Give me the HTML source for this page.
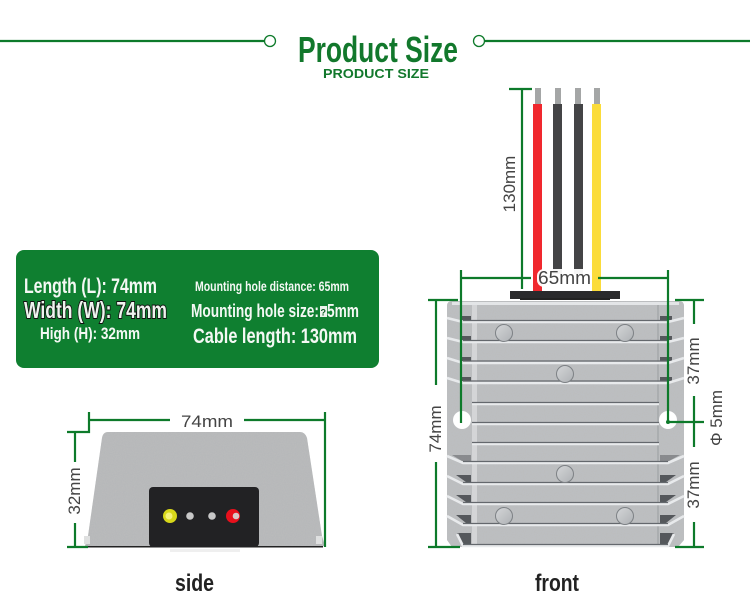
<!DOCTYPE html>
<html>
<head>
<meta charset="utf-8">
<style>
html,body{margin:0;padding:0;background:#fff;width:750px;height:600px;overflow:hidden}
svg{display:block}
text{font-family:"Liberation Sans",sans-serif}
.g{stroke:#0d7a2a;stroke-width:2.2;fill:none}
.d{font-size:17px;fill:#444}
.w{fill:#f4f8f4;font-weight:bold}
.fin{fill:none;stroke:#e8eaec;stroke-width:2.6}
.sh{fill:none;stroke:#64686d;stroke-width:1.2}
.sc{fill:url(#sg);stroke:#7d8185;stroke-width:1}
.dk{fill:#55585c}
</style>
</head>
<body>
<svg width="750" height="600" viewBox="0 0 750 600" xmlns="http://www.w3.org/2000/svg">
<defs>
<filter id="n" x="0" y="0" width="100%" height="100%">
<feTurbulence type="fractalNoise" baseFrequency="0.9" numOctaves="2" seed="3"/>
<feColorMatrix type="matrix" values="0 0 0 0 .5  0 0 0 0 .5  0 0 0 0 .5  1.4 0 0 0 -.35"/>
<feComposite in2="SourceGraphic" operator="in"/>
<feMerge><feMergeNode in="SourceGraphic"/><feMergeNode/></feMerge>
</filter>
<linearGradient id="sg" x1="0" y1="0" x2="1" y2="1"><stop offset="0" stop-color="#d4d6d8"/><stop offset="1" stop-color="#aeb1b4"/></linearGradient>
</defs>
<rect width="750" height="600" fill="#fff"/>

<!-- header -->
<path class="g" d="M0 41H264M485 41H750"/>
<circle cx="270" cy="41" r="5.5" fill="#fff" stroke="#0d7a2a" stroke-width="1.3"/>
<circle cx="479" cy="41" r="5.5" fill="#fff" stroke="#0d7a2a" stroke-width="1.3"/>
<text x="298" y="62" font-size="36" font-weight="bold" fill="#12782c" textLength="160" lengthAdjust="spacingAndGlyphs">Product Size</text>
<text x="323" y="78" font-size="13" font-weight="bold" fill="#12782c" textLength="106" lengthAdjust="spacingAndGlyphs">PRODUCT SIZE</text>

<!-- info panel -->
<rect x="16" y="250" width="363" height="118" rx="8" fill="#0f7f30"/>
<text class="w" x="24" y="293" font-size="21" textLength="133" lengthAdjust="spacingAndGlyphs">Length (L): 74mm</text>
<text x="24" y="318" font-size="23" font-weight="bold" textLength="143" lengthAdjust="spacingAndGlyphs" fill="#eef4ee" stroke="#111" stroke-width="2" style="paint-order:stroke">Width (W): 74mm</text>
<text class="w" x="40" y="339" font-size="16.5" textLength="100" lengthAdjust="spacingAndGlyphs">High (H): 32mm</text>
<text class="w" x="195" y="291" font-size="14" textLength="154" lengthAdjust="spacingAndGlyphs">Mounting hole distance: 65mm</text>
<text class="w" x="191" y="317" font-size="18" textLength="128" lengthAdjust="spacingAndGlyphs">Mounting hole size:</text>
<rect x="320" y="306" width="7" height="11" fill="#eef4ee"/>
<text x="320.500" y="315.500" font-size="9" font-weight="bold" fill="#0f5f28">?</text>
<text class="w" x="327" y="317" font-size="18" textLength="32" lengthAdjust="spacingAndGlyphs">5mm</text>
<text class="w" x="193" y="343" font-size="21" textLength="164" lengthAdjust="spacingAndGlyphs">Cable length: 130mm</text>

<!-- wires -->
<rect x="535" y="88" width="6" height="16" fill="#a4a6a6"/>
<rect x="555" y="88" width="6" height="16" fill="#a4a6a6"/>
<rect x="575" y="88" width="6" height="16" fill="#a4a6a6"/>
<rect x="594" y="88" width="6" height="16" fill="#a4a6a6"/>
<rect x="533" y="104" width="9" height="187" fill="#f0282e"/>
<rect x="553" y="104" width="9" height="170" fill="#444446"/>
<rect x="574" y="104" width="9" height="170" fill="#444446"/>
<rect x="592" y="104" width="9" height="187" fill="#fbdc3a"/>

<!-- front body -->
<path d="M452 301H679Q684 301 684 306V540L678 547H452L447 540V306Q447 301 452 301Z" fill="#bcbfc2" filter="url(#n)"/>
<rect x="472" y="305" width="5" height="240" fill="#e0e2e4" opacity=".65"/>
<rect x="657" y="305" width="2" height="240" fill="#9a9da0" opacity=".5"/>
<rect x="452" y="302" width="227" height="3" fill="#e3e5e7"/>

<!-- side dark notches -->
<rect class="dk" x="460" y="316" width="11" height="4"/><rect class="dk" x="660" y="316" width="12" height="4"/>
<rect class="dk" x="460" y="336" width="11" height="4"/><rect class="dk" x="660" y="336" width="12" height="4"/>
<rect class="dk" x="460" y="357" width="11" height="4"/><rect class="dk" x="660" y="357" width="12" height="4"/>
<rect class="dk" x="460" y="377" width="11" height="4"/><rect class="dk" x="660" y="377" width="12" height="4"/>
<path class="dk" d="M452 455H471V461H462ZM660 455H680L669 461H660Z" opacity=".5"/>
<path class="dk" d="M456 475H471V482H466ZM660 475H676L666 482H660Z"/>
<path class="dk" d="M456 495H471V502H466ZM660 495H676L666 502H660Z"/>
<path class="dk" d="M456 515H471V523H466ZM660 515H676L666 523H660Z"/>
<path class="dk" d="M457 533H471V544H463ZM660 533H674L668 544H660Z"/>

<!-- fins -->
<path class="fin" d="M447 318L463 322H668L684 318M447 338L463 342H668L684 338M447 358L463 363H668L684 358M447 378L463 383H668L684 378"/>
<path class="sh" d="M463 320.500H668M463 340.500H668M463 361H668M463 381H668"/>
<path class="fin" d="M472 404H659M472 424H659M472 444H659"/>
<path class="sh" d="M472 402.500H659M472 422.500H659M472 442.500H659"/>
<path class="fin" d="M447 456L463 463H668L684 456M447 476L463 484H668L684 476M447 496L463 504H668L684 496M447 516L463 525H668L684 516M457 534L463 546H668L674 534"/>
<path class="sh" d="M463 461.500H668M463 482.500H668M463 502.500H668M463 523.500H668M463 544.500H668"/>

<!-- screws -->
<circle class="sc" cx="504" cy="333" r="8.500"/><circle class="sc" cx="625" cy="333" r="8.500"/>
<circle class="sc" cx="565" cy="374" r="8.500"/><circle class="sc" cx="565" cy="474" r="8.500"/>
<circle class="sc" cx="504" cy="516" r="8.500"/><circle class="sc" cx="625" cy="516" r="8.500"/>

<!-- mounting holes -->
<circle cx="462" cy="420" r="9" fill="#fff"/>
<circle cx="668" cy="420" r="9" fill="#fff"/>

<!-- connector -->
<rect x="510" y="291" width="110" height="8" fill="#2a2a2c"/>
<rect x="520" y="298" width="90" height="2" fill="#222"/>

<!-- front dimension lines -->
<path class="g" d="M509 89H532M522 89V289"/>
<path class="g" d="M461 270V423M668 270V423M461 278H531M598 278H668"/>
<path class="g" d="M428 300H458M436 300V385M436 462V547M428 547H460"/>
<path class="g" d="M675 300H704M694 300V324M694 396V447M694 522V547M675 547H704M668 422H704"/>
<circle cx="668" cy="422" r="2" fill="#0d7a2a"/>
<rect x="537" y="269" width="55" height="18" rx="7" fill="#fff" opacity=".95"/>
<text class="d" x="538" y="284" textLength="53" lengthAdjust="spacingAndGlyphs" style="font-size:18px">65mm</text>
<text class="d" transform="translate(515 184) rotate(-90)" text-anchor="middle">130mm</text>
<text class="d" transform="translate(441 429) rotate(-90)" text-anchor="middle">74mm</text>
<text class="d" transform="translate(699 361) rotate(-90)" text-anchor="middle">37mm</text>
<text class="d" transform="translate(699 485) rotate(-90)" text-anchor="middle">37mm</text>
<text class="d" transform="translate(722 418) rotate(-90)" text-anchor="middle">Φ 5mm</text>

<!-- side view -->
<path d="M108 432H300Q305 432 307 438L322 536L325 546H85L88 536L102 438Q103 432 108 432Z" fill="#b6b8ba" filter="url(#n)"/>
<rect x="85" y="546" width="238" height="1.500" fill="#222"/>
<rect x="84" y="536" width="6" height="8" fill="#dfe0e0"/>
<rect x="316" y="536" width="6" height="8" fill="#dfe0e0"/>
<rect x="149" y="487" width="110" height="60" rx="4" fill="#222224"/>
<rect x="170" y="549" width="70" height="3" fill="#efefef"/>
<circle cx="170" cy="516" r="7" fill="#d8d81a"/><circle cx="169" cy="516" r="3.500" fill="#f4f27a"/>
<circle cx="190" cy="516" r="3.800" fill="#c8c8c8"/>
<circle cx="212" cy="516" r="3.800" fill="#c8c8c8"/>
<circle cx="233" cy="516" r="7" fill="#e8101c"/><circle cx="236" cy="516" r="3.300" fill="#d8c8c8"/>

<path class="g" d="M89 412V432H67M75 432V462M75 523V547M67 547H88M89 420H170M244 420H325M325 412V547"/>
<text class="d" x="181" y="427" textLength="52" lengthAdjust="spacingAndGlyphs">74mm</text>
<text class="d" transform="translate(80 491) rotate(-90)" text-anchor="middle">32mm</text>

<!-- captions -->
<text x="175" y="591" font-size="24" font-weight="bold" fill="#222" textLength="39" lengthAdjust="spacingAndGlyphs">side</text>
<text x="535" y="591" font-size="24" font-weight="bold" fill="#222" textLength="44" lengthAdjust="spacingAndGlyphs">front</text>
</svg>
</body>
</html>
